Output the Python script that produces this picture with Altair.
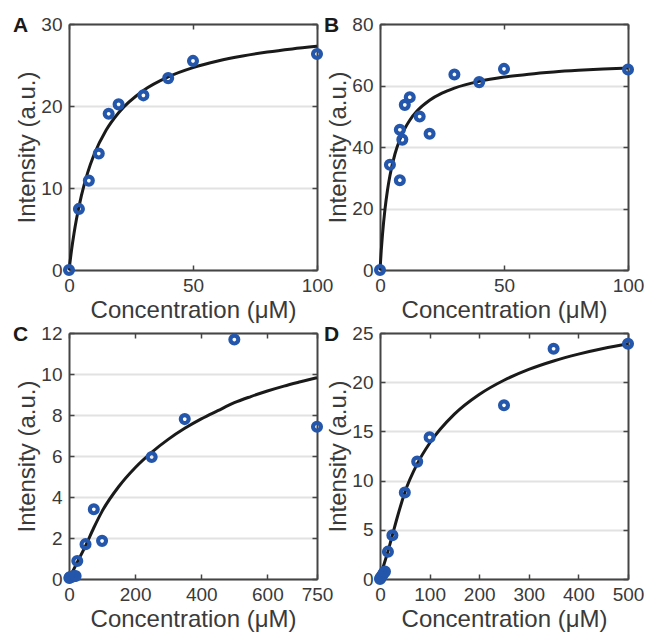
import altair as alt
import pandas as pd

# ---------------- data ----------------
# Panel A
a_conc = [0, 4, 8, 12, 16, 20, 30, 40, 50, 100]
a_int = [0, 7.45, 10.9, 14.2, 19.05, 20.2, 21.3, 23.4, 25.5, 26.35]
a_fit_conc = [0, 1, 2, 3, 5, 7.5, 10, 15, 20, 30, 40, 50, 60, 70, 80, 90, 100]
a_fit_int = [0, 2.38, 4.42, 6.18, 9.08, 11.85, 13.99, 17.07, 19.18, 21.89, 23.55,
             24.68, 25.49, 26.10, 26.58, 26.96, 27.28]

# Panel B
b_conc = [0, 4, 8, 8, 9, 10, 12, 16, 20, 30, 40, 50, 100]
b_int = [0, 34.2, 29.2, 45.6, 42.4, 53.7, 56.2, 49.9, 44.3, 63.6, 61.1, 65.4, 65.2]
b_fit_conc = [0, 0.5, 1, 2, 3, 4, 6, 8, 10, 12, 15, 20, 25, 30, 40, 50, 60, 70, 80, 90, 100]
b_fit_int = [0, 6.27, 11.5, 19.71, 25.88, 30.67, 37.64, 42.46, 46.0, 48.71, 51.75,
             55.2, 57.5, 59.14, 61.33, 62.73, 63.69, 64.4, 64.94, 65.37, 65.71]

# Panel C
c_conc = [1, 2.5, 5, 10, 15, 20, 25, 50, 75, 100, 250, 350, 500, 750]
c_int = [0.05, 0.08, 0.1, 0.12, 0.14, 0.15, 0.88, 1.70, 3.40, 1.86, 5.95, 7.80, 11.68, 7.43]
c_fit_conc = [0, 10, 27, 50, 75, 100, 150, 200, 250, 300, 350, 400, 450, 500, 550, 600, 650, 700, 750]
c_fit_int = [0, 0.33, 0.88, 1.62, 2.5, 3.3, 4.5, 5.43, 6.18, 6.81, 7.35, 7.81, 8.21,
             8.6, 8.9, 9.17, 9.41, 9.62, 9.82]

# Panel D
d_conc = [0, 1, 2.5, 5, 7.5, 10, 16, 25, 50, 75, 100, 250, 350, 500]
d_int = [0, 0.1, 0.2, 0.4, 0.6, 0.75, 2.78, 4.45, 8.79, 11.93, 14.4, 17.65, 23.4, 23.9]
d_fit_conc = [0, 5, 10, 16, 25, 35, 50, 75, 100, 150, 200, 250, 300, 350, 400, 450, 500]
d_fit_int = [0, 1.0, 1.8, 2.8, 4.45, 6.3, 8.8, 11.7, 13.8, 16.75, 18.75, 20.2, 21.3,
             22.16, 22.85, 23.42, 23.9]

panel_letters = ["A", "B", "C", "D"]
x_max = [100, 100, 750, 500]
x_ticks = [[0, 50, 100], [0, 50, 100], [0, 200, 400, 600, 750], [0, 100, 200, 300, 400, 500]]
y_max = [30, 80, 12, 25]
y_ticks = [[0, 10, 20, 30], [0, 20, 40, 60, 80], [0, 2, 4, 6, 8, 10, 12], [0, 5, 10, 15, 20, 25]]

x_title = "Concentration (μM)"
y_title = "Intensity (a.u.)"

# ---------------- styling ----------------
FONT = "Liberation Sans"
AX = "#454545"
TXT = "#3a3a3a"
GRID = "#e2e2e2"
BLUE = "#2457ab"
W, H = 248, 246


def panel(letter, px, py, fx, fy, xmax, xt, ymax, yt):
    pts = pd.DataFrame({"c": px, "i": py})
    fit = pd.DataFrame({"c": fx, "i": fy})
    lab = pd.DataFrame({"t": [letter]})
    xs = alt.Scale(domain=[0, xmax], nice=False, zero=False)
    ys = alt.Scale(domain=[0, ymax], nice=False, zero=False)
    common = dict(domainColor=AX, domainWidth=2, tickColor=AX, tickWidth=1.5,
                  tickSize={"expr": "-5"})
    ax_bottom = alt.Axis(orient="bottom", values=xt, title=x_title, grid=False,
                         labelFlush=False, labelOverlap=False, labelFontSize=19,
                         labelColor=TXT, labelFont=FONT, labelPadding=11.5,
                         titleFontSize=24, titleFont=FONT, titleColor=TXT,
                         titleFontWeight="normal", titleBaseline="top", titleY=28.5,
                         **common)
    ax_top = alt.Axis(orient="top", values=xt, title=None, labels=False, grid=False, **common)
    ax_left = alt.Axis(orient="left", values=yt, title=y_title, grid=True,
                       gridColor=GRID, gridWidth=2, labelFlush=False, labelOverlap=False,
                       labelFontSize=19, labelColor=TXT, labelFont=FONT, labelPadding=12,
                       titleFontSize=24, titleFont=FONT, titleColor=TXT,
                       titleFontWeight="normal", titleBaseline="alphabetic", titleX=-35,
                       **common)
    ax_right = alt.Axis(orient="right", values=yt, title=None, labels=False, grid=False, **common)

    line = alt.Chart(fit).mark_line(color="#1a1a1a", strokeWidth=3, interpolate="monotone").encode(
        x=alt.X("c:Q", scale=xs, axis=ax_bottom),
        y=alt.Y("i:Q", scale=ys, axis=ax_left),
    )
    dots = alt.Chart(pts).mark_point(shape="circle", filled=False, size=62, strokeWidth=4.2,
                                     color=BLUE, opacity=1).encode(
        x=alt.X("c:Q", scale=xs, axis=ax_top),
        y=alt.Y("i:Q", scale=ys, axis=ax_right),
    )
    tag = alt.Chart(lab).mark_text(align="left", baseline="alphabetic", fontSize=21,
                                   fontWeight="bold", font=FONT, color="#1a1a1a").encode(
        text="t:N", x=alt.value(-56), y=alt.value(8),
    )
    return alt.layer(line, dots, tag).resolve_axis(x="independent", y="independent").properties(
        width=W, height=H,
    )


panels = [
    panel(panel_letters[0], a_conc, a_int, a_fit_conc, a_fit_int, x_max[0], x_ticks[0], y_max[0], y_ticks[0]),
    panel(panel_letters[1], b_conc, b_int, b_fit_conc, b_fit_int, x_max[1], x_ticks[1], y_max[1], y_ticks[1]),
    panel(panel_letters[2], c_conc, c_int, c_fit_conc, c_fit_int, x_max[2], x_ticks[2], y_max[2], y_ticks[2]),
    panel(panel_letters[3], d_conc, d_int, d_fit_conc, d_fit_int, x_max[3], x_ticks[3], y_max[3], y_ticks[3]),
]

chart = alt.concat(*panels, columns=2, spacing=63, bounds="flush").properties(
    padding={"left": 4, "top": 6, "right": 0, "bottom": 0}
).configure_view(stroke=None).configure(background="white")

chart.save("out.html", embed_options={"renderer": "svg", "actions": False})
